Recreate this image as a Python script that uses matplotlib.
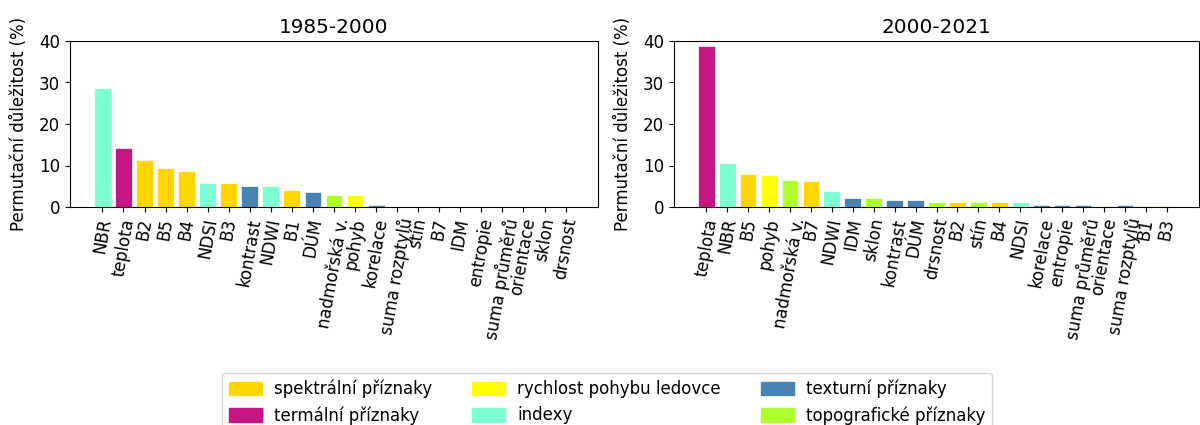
import matplotlib
matplotlib.use('Agg')
from matplotlib import pyplot as plt
from matplotlib.patches import Patch

plt.rcParams['font.size'] = 12

# feature groups and their colours
groups = ['spektrální příznaky', 'termální příznaky', 'rychlost pohybu ledovce',
          'indexy', 'texturní příznaky', 'topografické příznaky']
group_colors = {'spektrální příznaky': 'gold',
                'termální příznaky': 'mediumvioletred',
                'rychlost pohybu ledovce': 'yellow',
                'indexy': 'aquamarine',
                'texturní příznaky': 'steelblue',
                'topografické příznaky': 'greenyellow'}

feature_group = {'B1': 'spektrální příznaky', 'B2': 'spektrální příznaky',
                 'B3': 'spektrální příznaky', 'B4': 'spektrální příznaky',
                 'B5': 'spektrální příznaky', 'B7': 'spektrální příznaky',
                 'teplota': 'termální příznaky',
                 'pohyb': 'rychlost pohybu ledovce',
                 'NBR': 'indexy', 'NDSI': 'indexy', 'NDWI': 'indexy',
                 'kontrast': 'texturní příznaky', 'DÚM': 'texturní příznaky',
                 'korelace': 'texturní příznaky', 'suma rozptylů': 'texturní příznaky',
                 'IDM': 'texturní příznaky', 'entropie': 'texturní příznaky',
                 'suma průměrů': 'texturní příznaky',
                 'nadmořská v.': 'topografické příznaky', 'stín': 'topografické příznaky',
                 'orientace': 'topografické příznaky', 'sklon': 'topografické příznaky',
                 'drsnost': 'topografické příznaky'}

features_1985 = ['NBR', 'teplota', 'B2', 'B5', 'B4', 'NDSI', 'B3', 'kontrast', 'NDWI',
                 'B1', 'DÚM', 'nadmořská v.', 'pohyb', 'korelace', 'suma rozptylů',
                 'stín', 'B7', 'IDM', 'entropie', 'suma průměrů', 'orientace',
                 'sklon', 'drsnost']
importance_1985 = [28.6, 14.2, 11.3, 9.5, 8.6, 5.9, 5.7, 5.1, 5.0,
                   4.2, 3.6, 3.0, 2.8, 0.4, 0.0,
                   0.0, 0.0, 0.0, 0.0, 0.0, 0.0,
                   0.0, 0.0]

features_2000 = ['teplota', 'NBR', 'B5', 'pohyb', 'nadmořská v.', 'B7', 'NDWI', 'IDM',
                 'sklon', 'kontrast', 'DÚM', 'drsnost', 'B2', 'stín', 'B4', 'NDSI',
                 'korelace', 'entropie', 'suma průměrů', 'orientace', 'suma rozptylů',
                 'B1', 'B3']
importance_2000 = [38.9, 10.6, 8.0, 7.8, 6.6, 6.2, 3.9, 2.2,
                   2.1, 1.8, 1.6, 1.3, 1.3, 1.3, 1.3, 1.3,
                   0.6, 0.6, 0.4, 0.3, 0.4,
                   0.3, 0.3]


def plot_importance(ax, features, values, title):
    colors = [group_colors[feature_group[f]] for f in features]
    ax.bar(features, values, color=colors, edgecolor='white', linewidth=0.5)
    ax.set_title(title)
    ax.set_ylim(0, 40)
    ax.set_yticks([0, 10, 20, 30, 40])
    ax.set_ylabel('Permutační důležitost (%)', labelpad=8)
    ax.tick_params(axis='x', labelrotation=80)


fig = plt.figure(figsize=(12, 4.25), dpi=100)
ax1 = fig.add_axes([70 / 1200, 1 - 207 / 425, 528 / 1200, 166 / 425])
ax2 = fig.add_axes([674 / 1200, 1 - 207 / 425, 525 / 1200, 166 / 425])

plot_importance(ax1, features_1985, importance_1985, '1985-2000')
plot_importance(ax2, features_2000, importance_2000, '2000-2021')

handles = [Patch(color=group_colors[g], label=g) for g in groups]
fig.legend(handles=handles, ncol=3, loc='upper center', borderaxespad=0,
           columnspacing=2.4, handletextpad=0.7, handleheight=0.9,
           bbox_to_anchor=(607 / 1200, 1 - 373 / 425))

fig.savefig('out.png', dpi=100)
